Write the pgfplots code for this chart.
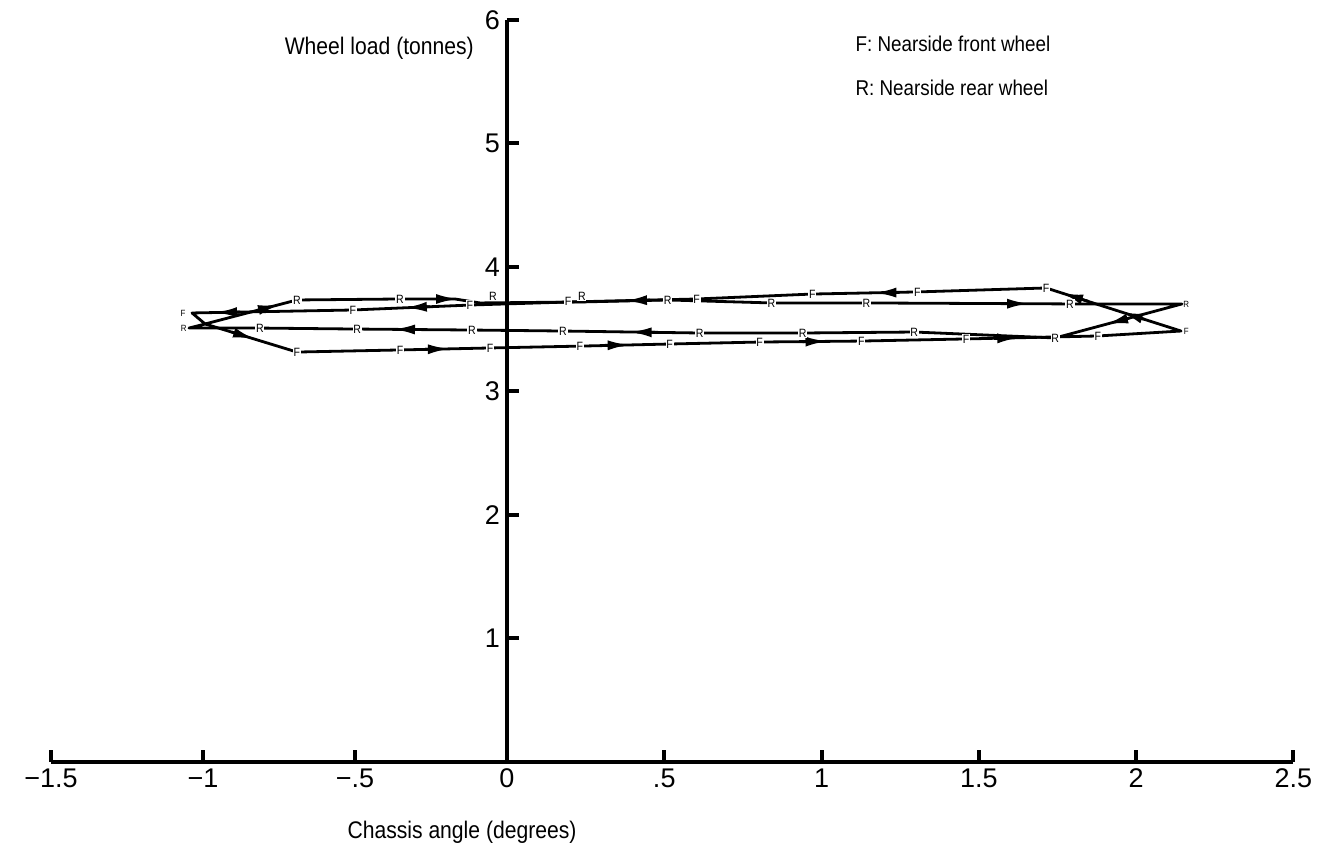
\documentclass[border=0pt]{standalone}
\usepackage{fontspec}
\setmainfont{Liberation Sans}[FakeStretch=0.88]
\newfontfamily\tickfam{Liberation Sans}
\usepackage{pgfplots}
\pgfplotsset{compat=1.18}
\usetikzlibrary{arrows.meta}
\newcommand\lab{\fontsize{6}{6}\selectfont}
\newcommand\tip{\fontsize{4.5}{4.5}\selectfont}
\newcommand\txt{\fontsize{12}{14}\selectfont}
\newcommand\leg{\fontsize{10.7}{13}\selectfont}
\tikzset{
  fline/.style={line width=1.4pt, black, line join=round},
  farr/.style={line width=1.4pt, black, -{Latex[length=11pt,width=5pt]}},
  flab/.style={only marks, mark=text, text mark as node=true,
     text mark style={font=\lab, fill=white, inner sep=0.4pt}},
  ftip/.style={only marks, mark=text, text mark as node=true,
     text mark style={font=\tip, inner sep=0pt}},
}
\begin{document}
\begin{tikzpicture}
\useasboundingbox (-25.5pt,-47.5pt) rectangle (636.5pt,381pt);
\begin{axis}[
  at={(0,0)}, anchor=south west,
  x=155.5pt, y=61.85pt,
  x coord trafo/.code={\pgfmathparse{(#1<0) ? (0.9775*(#1)) : (1.0113*(#1))}},
  xmin=-1.5, xmax=2.5, ymin=0, ymax=6,
  axis lines=middle,
  axis line style={line width=2pt, -},
  xtick={-1.5,-1,-0.5,0,0.5,1,1.5,2,2.5},
  xticklabels={−1.5,−1,−.5,0,.5,1,1.5,2,2.5},
  ytick={1,2,3,4,5,6}, yticklabels={1,2,3,4,5,6},
  hide obscured x ticks=false, hide obscured y ticks=false,
  tick align=inside,
  major tick length=6pt,
  every tick/.style={line width=2pt, black},
  tick label style={font=\tickfam\fontsize{13.5}{16}\selectfont},
  clip=false,
]
% F loop (nearside front wheel)
\addplot[fline] coordinates {
(1.714,3.832) (1.305,3.800) (0.971,3.783) (0.603,3.743) (0.200,3.719)
(-0.122,3.694) (-0.507,3.654) (-1.036,3.630) (-0.993,3.541) (-0.691,3.314)
(-0.352,3.331) (-0.056,3.347) (0.232,3.362) (0.517,3.379) (0.803,3.395)
(1.127,3.403) (1.460,3.420) (1.879,3.444) (2.143,3.484) (1.714,3.832)};
% R loop (nearside rear wheel)
\addplot[fline] coordinates {
(-0.691,3.735) (-0.352,3.743) (-0.171,3.743) (-0.089,3.711) (0.238,3.719)
(0.511,3.735) (0.841,3.711) (1.143,3.711) (1.787,3.703) (2.146,3.703)
(1.743,3.428) (1.295,3.476) (0.940,3.468) (0.613,3.468) (0.178,3.484)
(-0.115,3.492) (-0.493,3.500) (-0.813,3.508) (-1.046,3.508) (-0.993,3.541)
(-0.691,3.735)};
% F arrows
\addplot[farr] coordinates {(1.848,3.724) (1.762,3.793)};
\addplot[farr] coordinates {(2.025,3.580) (1.952,3.639)};
\addplot[farr] coordinates {(1.248,3.795) (1.168,3.793)};
\addplot[farr] coordinates {(0.454,3.734) (0.375,3.729)};
\addplot[farr] coordinates {(-0.253,3.681) (-0.336,3.672)};
\addplot[farr] coordinates {(-0.878,3.637) (-0.961,3.633)};
\addplot[farr] coordinates {(-0.905,3.475) (-0.829,3.418)};
\addplot[farr] coordinates {(-0.270,3.336) (-0.188,3.340)};
\addplot[farr] coordinates {(0.311,3.368) (0.390,3.372)};
\addplot[farr] coordinates {(0.940,3.398) (1.019,3.401)};
\addplot[farr] coordinates {(1.549,3.424) (1.629,3.429)};
% R arrows
\addplot[farr] coordinates {(-0.822,3.651) (-0.747,3.699)};
\addplot[farr] coordinates {(-0.243,3.743) (-0.161,3.743)};
\addplot[farr] coordinates {(1.581,3.705) (1.660,3.705)};
\addplot[farr] coordinates {(1.978,3.588) (1.905,3.538)};
\addplot[farr] coordinates {(0.470,3.473) (0.390,3.476)};
\addplot[farr] coordinates {(-0.293,3.496) (-0.375,3.498)};
% F labels
\addplot[flab, text mark={F}] coordinates {
(1.714,3.832) (1.305,3.800) (0.971,3.783) (0.603,3.743) (0.194,3.727)
(-0.122,3.694) (-0.507,3.654) (-0.691,3.314) (-0.352,3.331) (-0.056,3.347)
(0.232,3.362) (0.517,3.379) (0.803,3.395) (1.127,3.403) (1.460,3.420)
(1.879,3.444)};
% R labels
\addplot[flab, text mark={R}] coordinates {
(-0.691,3.735) (-0.352,3.743) (-0.046,3.765) (0.238,3.765) (0.511,3.735)
(0.841,3.711) (1.143,3.711) (1.790,3.703) (1.743,3.428) (1.295,3.476)
(0.940,3.468) (0.613,3.468) (0.178,3.484) (-0.115,3.492) (-0.493,3.500)
(-0.813,3.508)};
% tiny end labels
\addplot[ftip, text mark={F}] coordinates {(-1.066,3.630) (2.160,3.484)};
\addplot[ftip, text mark={R}] coordinates {(-1.063,3.508) (2.160,3.703)};
% texts
\node[anchor=east, font=\txt] at (axis cs:-0.086,5.772) {Wheel load (tonnes)};
\node[font=\txt] at (axis cs:-0.148,-0.566) {Chassis angle (degrees)};
\node[anchor=west, inner sep=0pt, font=\leg] at (axis cs:1.107,5.804) {F: Nearside front wheel};
\node[anchor=west, inner sep=0pt, font=\leg] at (axis cs:1.107,5.449) {R: Nearside rear wheel};
\end{axis}
\end{tikzpicture}
\end{document}
